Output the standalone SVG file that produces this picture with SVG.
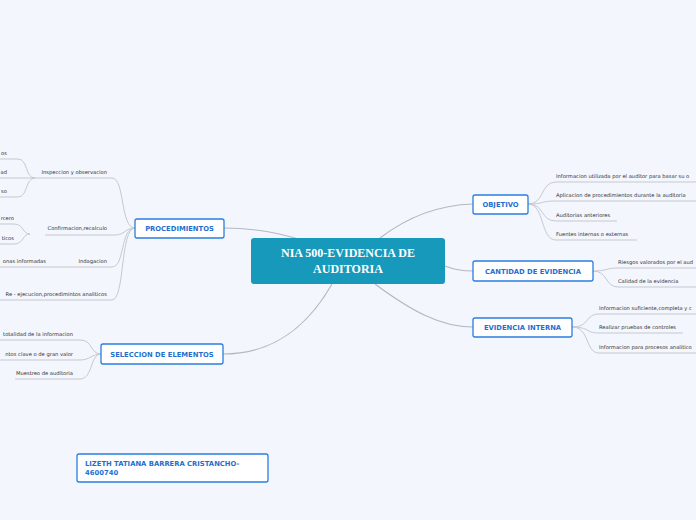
<svg xmlns="http://www.w3.org/2000/svg" width="696" height="520" viewBox="0 0 696 520">
<style>
.bg{fill:#f3f6fd}
.box{fill:#fff;stroke:#2a7de1;stroke-width:1.3}
.bt{font-family:"DejaVu Sans",Verdana,sans-serif;font-size:6.8px;font-weight:bold;fill:#1f6fd0}
.lt{font-family:"DejaVu Sans",Verdana,sans-serif;font-size:5.2px;fill:#333}
.c{fill:none;stroke:#c6c9d0;stroke-width:1}
.m{fill:none;stroke:#b4b8c0;stroke-width:1.2}
</style>
<rect class="bg" width="696" height="520"/>
<g id="connectors">
<path class="m" d="M330 252 C300 236 260 228 224 228"/>
<path class="m" d="M332 284 C300 340 260 354 223 354"/>
<path class="m" d="M380 238 C410 215 440 205 473 204"/>
<path class="m" d="M445 266 C455 270 462 271 473 271"/>
<path class="m" d="M375 284 C410 310 440 327 473 327"/>
<path class="c" d="M135 228 C120 228 125 178 112 178 L35 178"/>
<path class="c" d="M35 178 C25 178 28 159 18 159 L0 159"/>
<path class="c" d="M35 178 L0 178"/>
<path class="c" d="M35 178 C25 178 28 197 18 197 L0 197"/>
<path class="c" d="M135 228 C125 228 125 235 115 235 L45 235"/>
<path class="c" d="M30 234 C22 234 24 224 14 224 L0 224"/>
<path class="c" d="M30 234 C22 234 24 244 14 244 L0 244"/>
<path class="c" d="M135 228 C120 228 125 267 112 267 L0 267"/>
<path class="c" d="M135 228 C120 228 125 300 112 300 L0 300"/>
<path class="c" d="M101 354 C90 354 93 340 80 340 L0 340"/>
<path class="c" d="M101 354 C92 354 90 360 80 360 L0 360"/>
<path class="c" d="M101 354 C90 354 93 379 80 379 L15 379"/>
<path class="c" d="M528 204 C545 204 540 182 556 182 L696 182"/>
<path class="c" d="M528 204 C545 204 540 201 556 201 L696 201"/>
<path class="c" d="M528 204 C545 204 540 221 556 221 L617 221"/>
<path class="c" d="M528 204 C545 204 540 240 556 240 L637 240"/>
<path class="c" d="M593 271 C608 271 605 268 618 268 L696 268"/>
<path class="c" d="M593 271 C608 271 605 287 618 287 L696 287"/>
<path class="c" d="M572 327 C590 327 585 314 599 314 L696 314"/>
<path class="c" d="M572 327 C590 327 585 333 599 333 L683 333"/>
<path class="c" d="M572 327 C590 327 585 353 599 353 L696 353"/>
</g>
<g id="central"><rect x="251" y="238" width="194" height="46" rx="3" fill="#1799bb"/>
<text x="348" y="257" text-anchor="middle" font-family="'Liberation Serif',serif" font-weight="bold" font-size="12" fill="#fff">NIA 500-EVIDENCIA DE</text>
<text x="348" y="273" text-anchor="middle" font-family="'Liberation Serif',serif" font-weight="bold" font-size="12" fill="#fff">AUDITORIA</text></g>
<g id="procedimientos"><rect class="box" x="135" y="219" width="89" height="19" rx="2"/><text class="bt" x="179.5" y="231" text-anchor="middle">PROCEDIMIENTOS</text></g>
<g id="seleccion"><rect class="box" x="101" y="344" width="122" height="20" rx="2"/><text class="bt" x="162" y="357" text-anchor="middle">SELECCION DE ELEMENTOS</text></g>
<g id="objetivo"><rect class="box" x="473" y="195" width="55" height="19" rx="2"/><text class="bt" x="500.5" y="207" text-anchor="middle">OBJETIVO</text></g>
<g id="cantidad"><rect class="box" x="473" y="261" width="120" height="20" rx="2"/><text class="bt" x="533" y="274" text-anchor="middle">CANTIDAD DE EVIDENCIA</text></g>
<g id="interna"><rect class="box" x="473" y="318" width="99" height="19" rx="2"/><text class="bt" x="522.5" y="330" text-anchor="middle">EVIDENCIA INTERNA</text></g>
<g id="autor"><rect class="box" x="77" y="454" width="191" height="28" rx="2"/><text class="bt" x="85" y="466">LIZETH TATIANA BARRERA CRISTANCHO-</text><text class="bt" x="85" y="475">4600740</text></g>
<g id="leaves">
<text class="lt" x="107" y="174" text-anchor="end">Inspeccion y observacion</text>
<text class="lt" x="7" y="155" text-anchor="end">os</text>
<text class="lt" x="7" y="174" text-anchor="end">ad</text>
<text class="lt" x="7" y="193" text-anchor="end">so</text>
<text class="lt" x="107" y="230" text-anchor="end">Confirmacion,recalculo</text>
<text class="lt" x="14" y="220" text-anchor="end">rcero</text>
<text class="lt" x="14" y="240" text-anchor="end">ticos</text>
<text class="lt" x="107" y="263" text-anchor="end">Indagacion</text>
<text class="lt" x="46" y="263" text-anchor="end">onas informadas</text>
<text class="lt" x="107" y="296" text-anchor="end">Re - ejecucion,procedimintos analiticos</text>
<text class="lt" x="73" y="336" text-anchor="end">totalidad de la informacion</text>
<text class="lt" x="73" y="356" text-anchor="end">ntos clave o de gran valor</text>
<text class="lt" x="73" y="375" text-anchor="end">Muestreo de auditoria</text>
<text class="lt" x="556" y="178">Informacion utilizada por el auditor para basar su o</text>
<text class="lt" x="556" y="197">Aplicacion de procedimientos durante la auditoria</text>
<text class="lt" x="556" y="217">Auditorias anteriores</text>
<text class="lt" x="556" y="236">Fuentes internas o externas</text>
<text class="lt" x="618" y="264">Riesgos valorados por el aud</text>
<text class="lt" x="618" y="283">Calidad de la evidencia</text>
<text class="lt" x="599" y="310">Informacion suficiente,completa y c</text>
<text class="lt" x="599" y="329">Realizar pruebas de controles</text>
<text class="lt" x="599" y="349">Informacion para procesos analitico</text>
</g>
</svg>
